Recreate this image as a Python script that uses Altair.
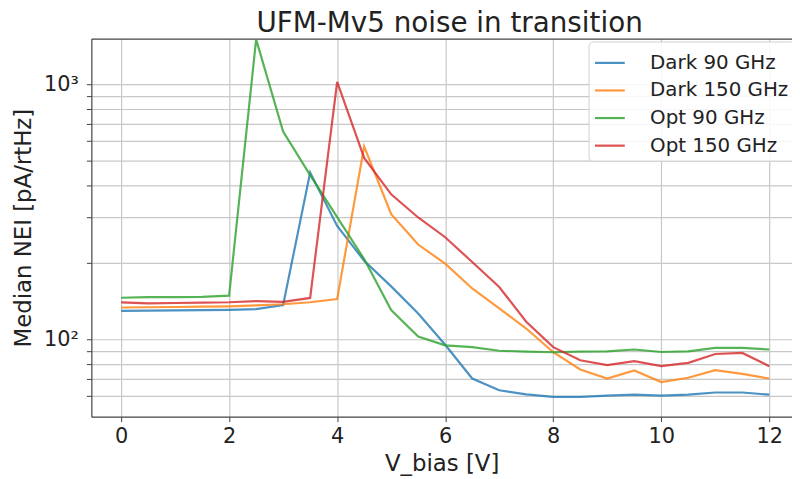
import altair as alt
import pandas as pd

# ---- data ----
V_BIAS = [0, 0.5, 1, 1.5, 2, 2.5, 3, 3.5, 4, 4.5, 5, 5.5, 6,
          6.5, 7, 7.5, 8, 8.5, 9, 9.5, 10, 10.5, 11, 11.5, 12]

DARK_90 = [129, 129.3, 129.6, 130, 130.3, 131, 136, 450, 278, 203, 161, 126, 95,
           70, 63, 60.7, 59.3, 59.3, 60, 60.5, 60, 60.5, 61.7, 61.7, 60.5]
DARK_150 = [133, 133.3, 133.6, 134, 134.4, 135.5, 137, 139.5, 143.5, 570, 309, 235, 197.6,
            158, 132, 110, 88.8, 76, 70, 75.3, 67.8, 70.5, 75.5, 73, 70]
OPT_90 = [145.3, 146, 146, 146.5, 148, 1500, 652, 440, 301, 206, 130, 102.4, 94.5,
          93, 90, 89.3, 88.8, 89.3, 89.5, 91, 89, 89.5, 92.3, 92.3, 91]
OPT_150 = [139.3, 138, 138.5, 139, 139.5, 141, 140, 145, 1021, 514, 370, 300, 251,
           200.6, 160, 117, 93, 82.6, 79, 81.9, 78.3, 80.7, 87.4, 88.2, 78.3]

SERIES = ["Dark 90 GHz", "Dark 150 GHz", "Opt 90 GHz", "Opt 150 GHz"]
COLORS = ["#1f77b4", "#ff7f0e", "#2ca02c", "#d62728"]

X_TICKS = [0, 2, 4, 6, 8, 10, 12]
Y_TICKS = [60, 70, 80, 90, 100, 200, 300, 400, 500, 600, 700, 800, 900, 1000]

rows = []
for name, vals in zip(SERIES, [DARK_90, DARK_150, OPT_90, OPT_150]):
    for v, n in zip(V_BIAS, vals):
        rows.append({"V": v, "NEI": n, "series": name})
df = pd.DataFrame(rows)

FONT = "DejaVu Sans"
x_scale = alt.Scale(domain=[-0.55, 12.42], nice=False, zero=False)
y_scale = alt.Scale(type="log", domain=[49.6, 1511], nice=False)

lines = alt.Chart(df).mark_line(strokeWidth=2.2, opacity=0.8, clip=True).encode(
    x=alt.X("V:Q", scale=x_scale,
            axis=alt.Axis(values=X_TICKS, title="V_bias [V]", labelFlush=False,
                          labelOverlap=False, titlePadding=6, labelPadding=4)),
    y=alt.Y("NEI:Q", scale=y_scale,
            axis=alt.Axis(values=Y_TICKS, title="Median NEI [pA/rtHz]",
                          labelExpr="datum.value == 100 ? '10²' : (datum.value == 1000 ? '10³' : '')",
                          labelOverlap=False, labelFlush=False, titlePadding=8, labelPadding=8)),
    color=alt.Color("series:N", sort=SERIES,
                    scale=alt.Scale(domain=SERIES, range=COLORS),
                    legend=alt.Legend(orient="none", legendX=501, legendY=3, title=None,
                                      symbolType="stroke", symbolSize=900, symbolStrokeWidth=2.2,
                                      symbolOpacity=0.8, labelFontSize=20, labelFont=FONT,
                                      labelColor="#222222", labelOffset=24, rowPadding=0.8,
                                      padding=5, strokeColor="#d0d0d0", cornerRadius=4,
                                      fillColor="rgba(255,255,255,0.85)")),
)

top = alt.Chart(df).mark_point(opacity=0).encode(
    x=alt.X("V:Q", scale=x_scale,
            axis=alt.Axis(orient="top", labels=False, ticks=False, grid=False, title="",
                          domain=True)),
)

chart = alt.layer(lines, top).resolve_axis(x="independent").properties(
    width=706, height=381,
    padding={"left": 84, "top": 29, "right": 0, "bottom": 61},
    autosize=alt.AutoSizeParams(type="none"),
    title=alt.TitleParams("UFM-Mv5 noise in transition", fontSize=28, font=FONT,
                          fontWeight="normal", color="#222222", offset=1, dx=8,
                          anchor="middle"),
).configure_axis(
    labelFont=FONT, titleFont=FONT, labelFontSize=21, titleFontSize=23,
    titleFontWeight="normal", labelColor="#222222", titleColor="#222222",
    gridColor="#c8c8c8", gridWidth=1.2, domainColor="#444444", tickColor="#444444",
    tickSize=5, domainWidth=1.2,
).configure_view(stroke="transparent")

chart.save("out.html", embed_options={"renderer": "svg", "actions": False})
